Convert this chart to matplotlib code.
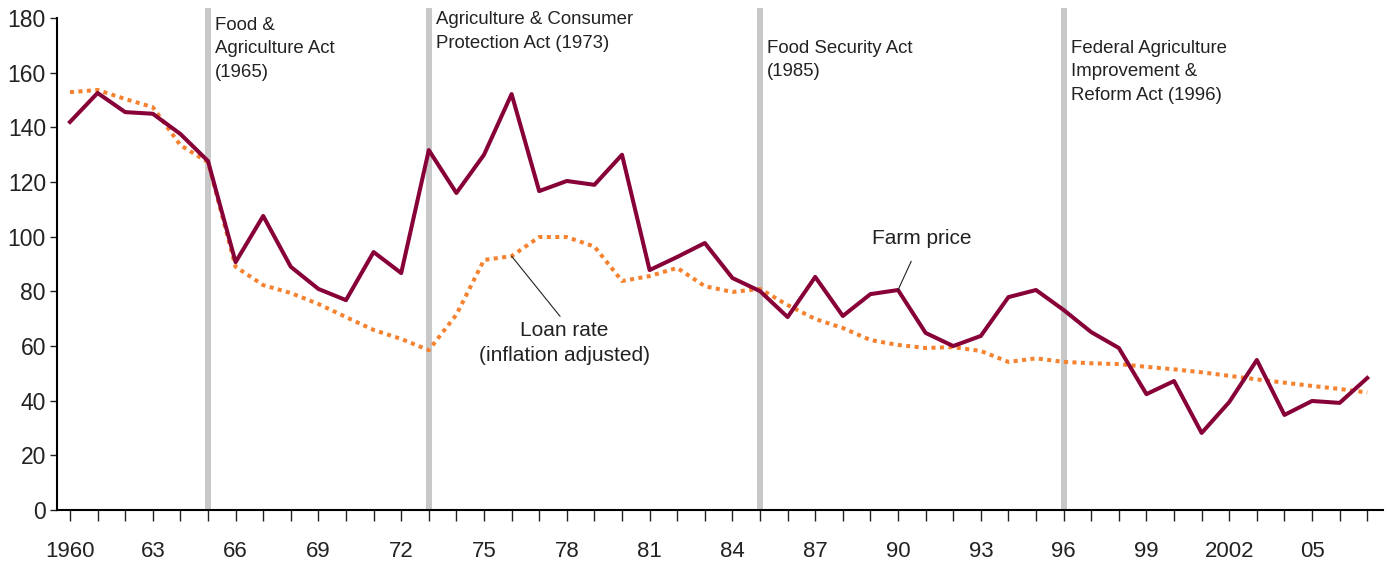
import matplotlib.pyplot as plt

plt.rcParams['font.family'] = ['Liberation Sans', 'DejaVu Sans']

years = list(range(1960, 2008))
farm_price = [142, 152.6, 145.6, 145, 137.6, 127.7, 90.7, 107.6, 89, 80.9,
              76.8, 94.4, 86.7, 131.7, 116, 130, 152.2, 116.7, 120.4, 119,
              130, 87.8, 92.6, 97.7, 84.9, 80.1, 70.6, 85.3, 71, 79,
              80.5, 64.8, 60, 63.7, 77.9, 80.5, 73.2, 65.1, 59.3, 42.4,
              47.2, 28.2, 39.5, 54.9, 34.8, 39.9, 39.2, 48.3]
loan_rate = [152.9, 153.7, 150.4, 147.4, 133.5, 127.3, 89, 82.3, 79.4, 75.4,
             70.6, 65.9, 62.6, 58.5, 71.5, 91.5, 92.9, 99.9, 99.9, 96.4,
             83.8, 85.6, 88.6, 81.9, 79.8, 80.9, 75, 69.9, 66.6, 62.2,
             60.4, 59.3, 59.6, 58.2, 54.2, 55.5, 54.2, 53.7, 53.4, 52.4,
             51.5, 50.4, 49.1, 47.8, 46.6, 45.4, 44.3, 43]

act_years = [1965, 1973, 1985, 1996]
act_labels = ['Food &\nAgriculture Act\n(1965)',
              'Agriculture & Consumer\nProtection Act (1973)',
              'Food Security Act\n(1985)',
              'Federal Agriculture\nImprovement &\nReform Act (1996)']
act_label_top = [180.5, 182.6, 172.1, 172.1]

xtick_years = list(range(1960, 2008, 3))
xtick_labels = ['1960', '63', '66', '69', '72', '75', '78', '81', '84', '87',
                '90', '93', '96', '99', '2002', '05']

fig = plt.figure(figsize=(13.87, 5.63), dpi=100)
ax = fig.add_axes([0.0411, 0.0941, 0.956, 0.8917])

for yr, lab, top in zip(act_years, act_labels, act_label_top):
    ax.axvline(yr, color='#c8c8c8', lw=4.3, zorder=1)
    ax.text(yr + 0.25, top, lab, ha='left', va='top', fontsize=13.4,
            color='#222222', linespacing=1.5)

ax.plot(years, loan_rate, color='#f5822f', lw=2.9, linestyle=(0, (1, 1.1)),
        dash_capstyle='butt', zorder=2)
ax.plot(years, farm_price, color='#870037', lw=2.9, zorder=3)

ax.annotate('Farm price', xy=(1990, 80.5), xytext=(1990.85, 99.2),
            ha='center', va='center', fontsize=15, color='#222222',
            arrowprops=dict(arrowstyle='-', color='#222222', lw=0.8,
                            shrinkA=8, shrinkB=0))
ax.annotate('Loan rate\n(inflation adjusted)', xy=(1976, 92.9), xytext=(1977.9, 61),
            ha='center', va='center', fontsize=15, color='#222222',
            linespacing=1.4,
            arrowprops=dict(arrowstyle='-', color='#222222', lw=0.8,
                            relpos=(0.5, 1.0), shrinkA=2, shrinkB=0))

ax.set_xlim(1959.53, 2007.57)
ax.set_ylim(0, 183.7)
ax.spines['top'].set_visible(False)
ax.spines['right'].set_visible(False)
ax.spines['left'].set_bounds(0, 180)
ax.spines['left'].set_linewidth(1.5)
ax.spines['bottom'].set_linewidth(1.5)

ax.set_yticks(range(0, 181, 20))
ax.set_xticks(years, minor=True)
ax.set_xticks(xtick_years)
ax.set_xticklabels(xtick_labels)
ax.tick_params(axis='y', length=5, width=1, pad=3, labelsize=16.5, colors='#222222')
ax.tick_params(axis='x', which='both', length=8, width=1, pad=14, labelsize=16,
               colors='#222222')

plt.savefig('out.png', dpi=100)
